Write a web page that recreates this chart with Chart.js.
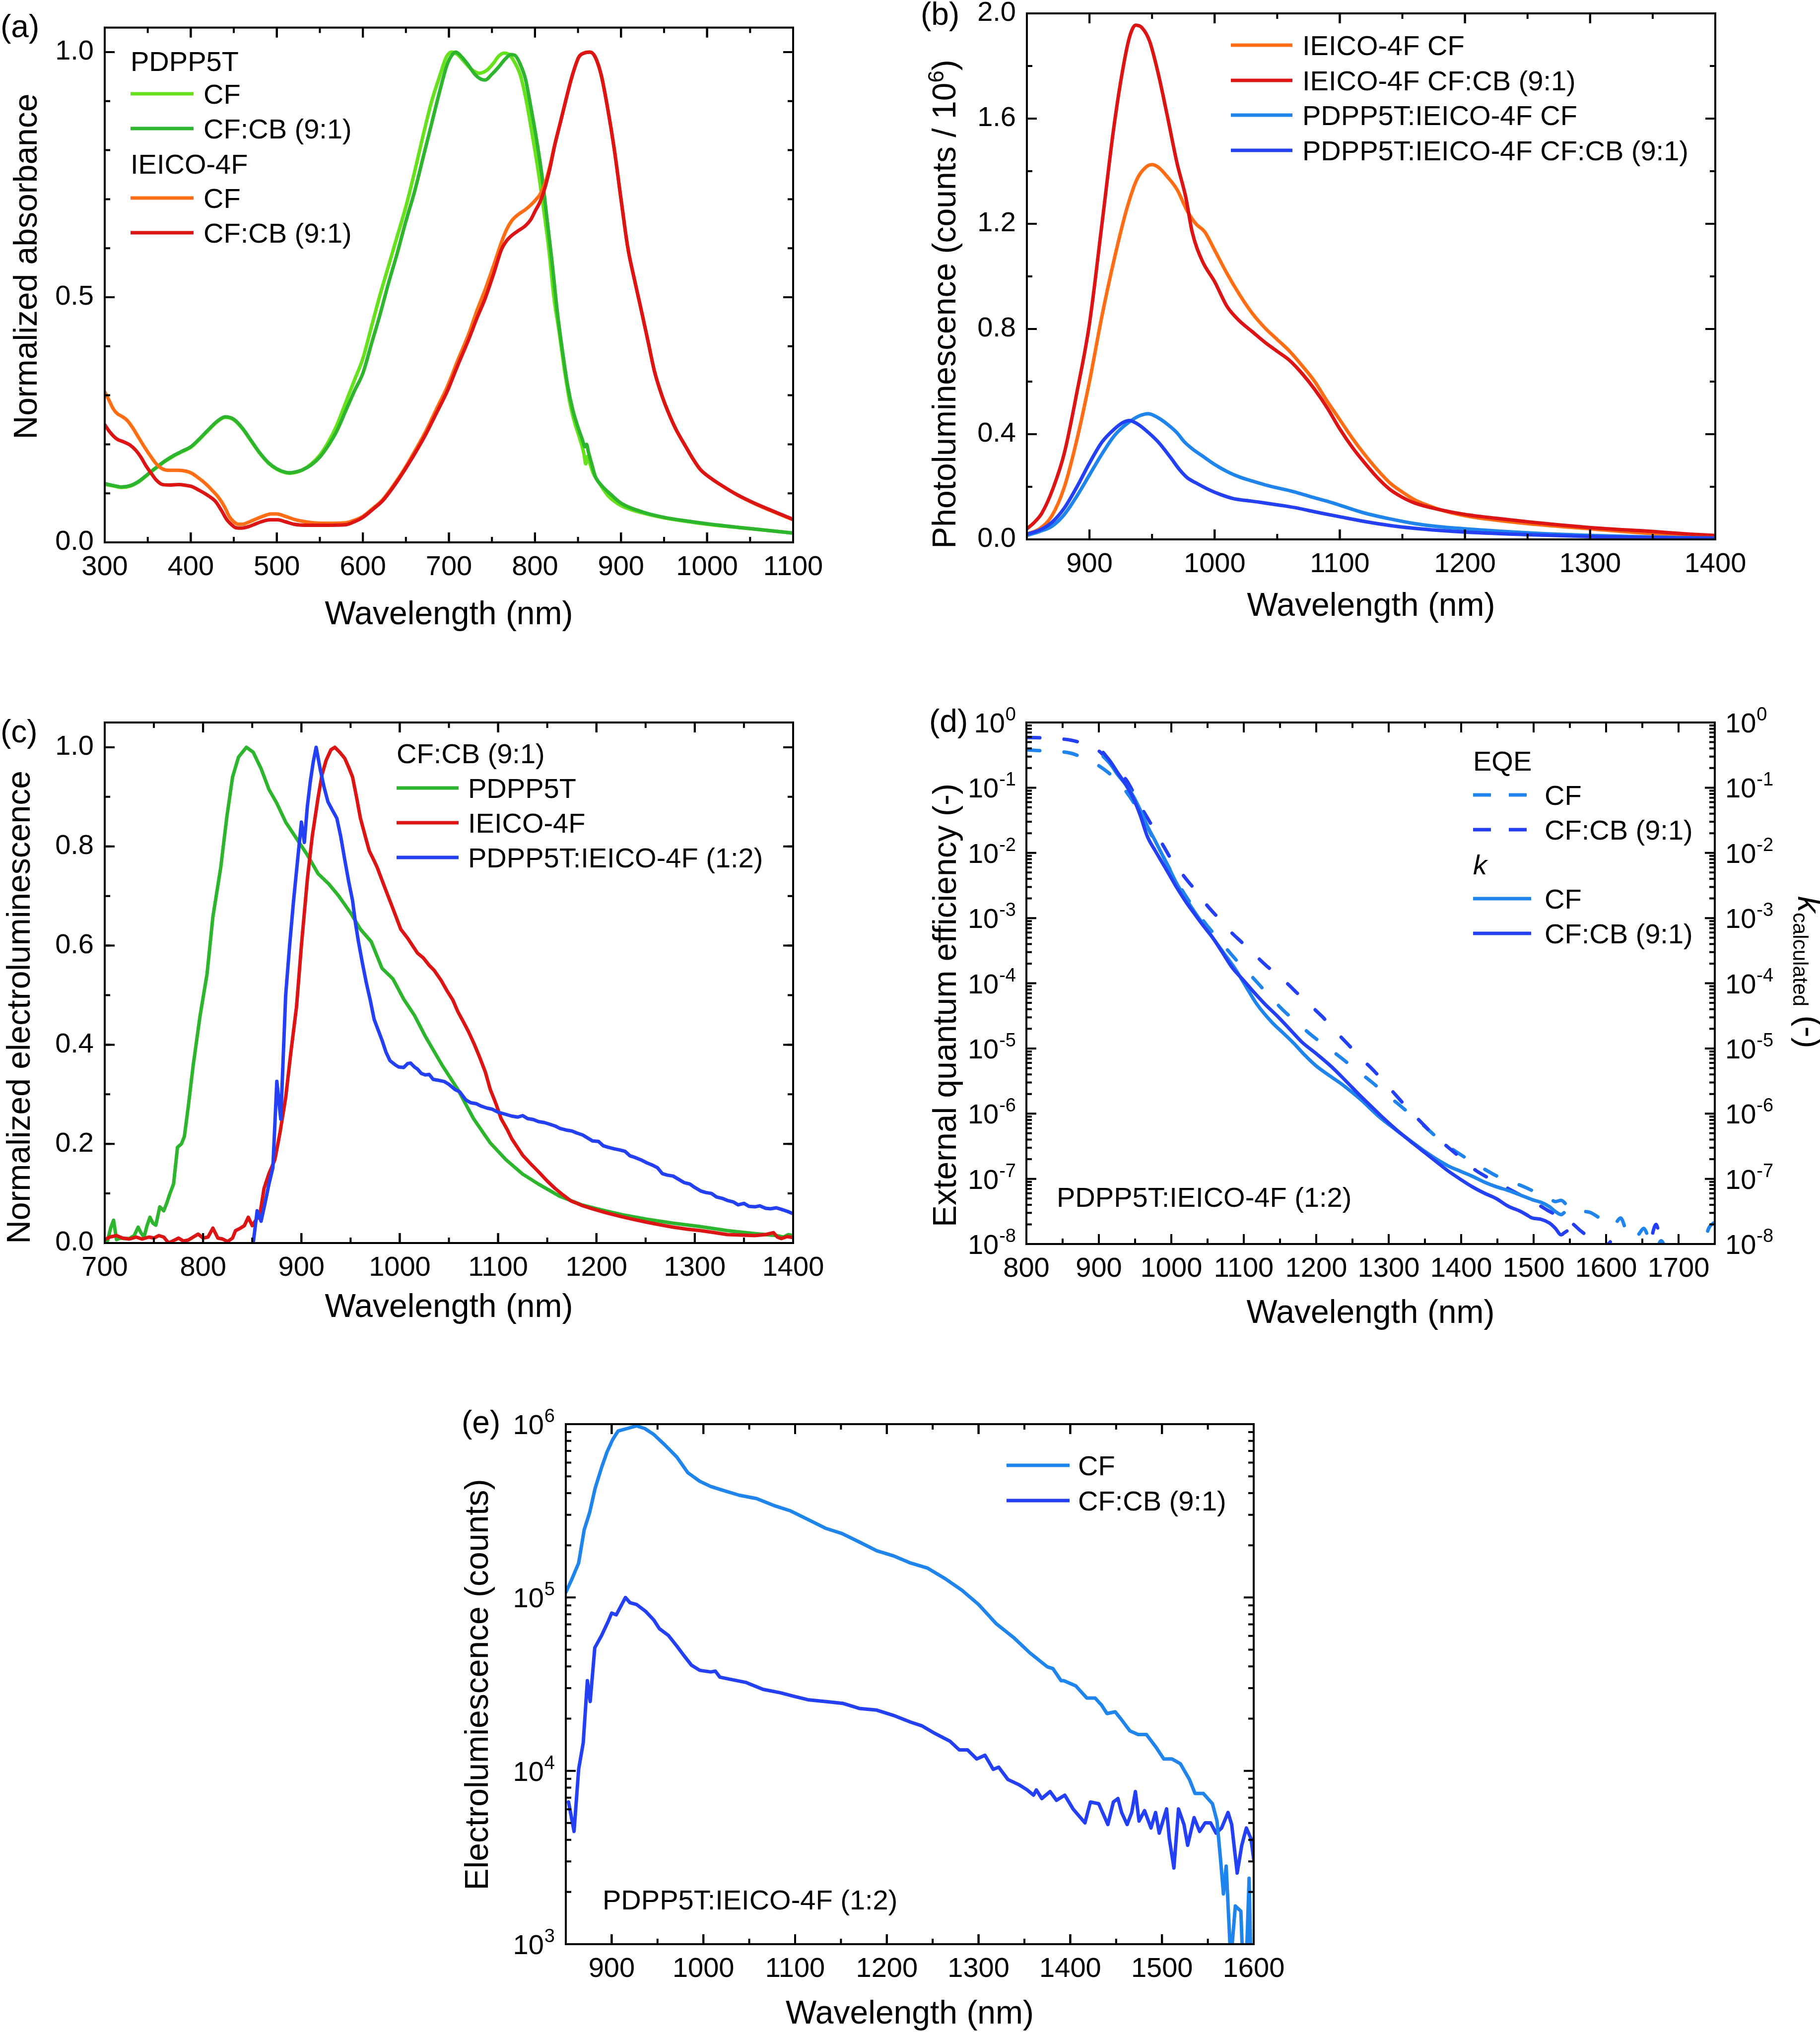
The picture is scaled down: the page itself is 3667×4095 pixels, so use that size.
<!DOCTYPE html>
<html><head><meta charset="utf-8">
<script src="https://cdn.jsdelivr.net/npm/chart.js@4.4.1/dist/chart.umd.min.js"></script>
<style>
html,body{margin:0;padding:0;background:#fff;}
body{width:3667px;height:4095px;position:relative;overflow:hidden;}
canvas{position:absolute;}
</style></head><body>
<canvas id="ca"></canvas><canvas id="cb"></canvas><canvas id="cc"></canvas><canvas id="cd"></canvas><canvas id="ce"></canvas>
<script>
// ================= DATA =================
// (a) normalized absorbance  [wavelength nm, value]
const absPDPP5T_CF = [[300,0.118],[310,0.115],[320,0.112],[330,0.115],[340,0.124],[350,0.138],[360,0.152],[370,0.165],[380,0.176],[390,0.185],[400,0.194],[410,0.21],[420,0.228],[430,0.245],[440,0.255],[450,0.25],[460,0.232],[470,0.207],[480,0.182],[490,0.162],[500,0.149],[510,0.142],[515,0.141],[520,0.142],[530,0.148],[540,0.16],[550,0.178],[560,0.205],[570,0.24],[580,0.285],[590,0.33],[600,0.375],[610,0.44],[620,0.505],[630,0.565],[640,0.625],[650,0.685],[660,0.755],[670,0.83],[680,0.9],[690,0.955],[697,0.99],[703,1.0],[710,0.995],[718,0.98],[726,0.965],[735,0.957],[744,0.963],[752,0.978],[758,0.992],[764,0.998],[770,0.995],[776,0.98],[783,0.953],[790,0.9],[797,0.83],[804,0.755],[810,0.68],[816,0.6],[822,0.5],[828,0.43],[834,0.355],[840,0.29],[846,0.245],[852,0.212],[857,0.18],[859,0.16],[861,0.175],[864,0.16],[868,0.14],[875,0.12],[885,0.095],[900,0.075],[925,0.06],[950,0.05],[975,0.043],[1000,0.037],[1050,0.028],[1100,0.019]];
const absPDPP5T_CFCB = [[300,0.12],[310,0.116],[320,0.113],[330,0.116],[340,0.125],[350,0.139],[360,0.153],[370,0.166],[380,0.177],[390,0.186],[400,0.195],[410,0.211],[420,0.229],[430,0.246],[440,0.256],[450,0.251],[460,0.233],[470,0.208],[480,0.183],[490,0.163],[500,0.15],[510,0.143],[515,0.142],[520,0.143],[530,0.148],[540,0.158],[550,0.174],[560,0.198],[570,0.228],[580,0.268],[590,0.308],[600,0.345],[610,0.405],[620,0.465],[630,0.53],[640,0.59],[650,0.655],[660,0.715],[670,0.785],[680,0.855],[690,0.925],[698,0.975],[704,0.995],[708,1.0],[715,0.99],[722,0.975],[730,0.955],[737,0.945],[742,0.943],[750,0.955],[758,0.97],[765,0.985],[772,0.995],[777,0.993],[783,0.975],[789,0.945],[795,0.89],[802,0.82],[808,0.75],[814,0.66],[820,0.57],[826,0.47],[832,0.39],[838,0.32],[844,0.27],[850,0.235],[855,0.21],[858,0.195],[860,0.2],[862,0.185],[866,0.16],[870,0.135],[878,0.115],[888,0.098],[900,0.08],[925,0.062],[950,0.051],[975,0.044],[1000,0.038],[1050,0.028],[1100,0.019]];
const absIEICO_CF = [[300,0.307],[305,0.29],[310,0.272],[315,0.262],[320,0.257],[326,0.249],[332,0.235],[339,0.215],[346,0.195],[354,0.174],[360,0.16],[367,0.15],[375,0.147],[385,0.147],[395,0.145],[401,0.141],[410,0.13],[417,0.12],[425,0.106],[433,0.09],[440,0.07],[445,0.052],[450,0.042],[455,0.037],[460,0.037],[467,0.041],[475,0.047],[485,0.054],[493,0.058],[500,0.058],[510,0.053],[520,0.047],[530,0.043],[542,0.04],[560,0.039],[580,0.04],[590,0.045],[600,0.053],[612,0.07],[623,0.087],[635,0.115],[648,0.149],[660,0.185],[673,0.226],[685,0.27],[698,0.317],[710,0.37],[723,0.425],[732,0.47],[742,0.515],[752,0.565],[761,0.612],[767,0.638],[773,0.656],[780,0.668],[789,0.679],[795,0.688],[800,0.697],[806,0.71],[811,0.729],[817,0.765],[823,0.812],[830,0.86],[836,0.903],[843,0.95],[851,0.99],[857,0.998],[864,1.0],[870,0.99],[877,0.953],[884,0.89],[892,0.804],[900,0.7],[908,0.6],[916,0.533],[924,0.47],[932,0.405],[939,0.348],[947,0.302],[955,0.265],[964,0.23],[974,0.199],[983,0.172],[992,0.149],[1005,0.13],[1017,0.116],[1035,0.097],[1055,0.079],[1075,0.064],[1100,0.046]];
const absIEICO_CFCB = [[300,0.24],[306,0.225],[314,0.211],[322,0.205],[329,0.199],[336,0.188],[342,0.174],[348,0.156],[354,0.141],[360,0.127],[367,0.118],[375,0.117],[386,0.118],[395,0.116],[401,0.114],[410,0.106],[417,0.099],[423,0.092],[429,0.083],[436,0.064],[442,0.046],[448,0.035],[452,0.03],[458,0.029],[465,0.031],[473,0.036],[482,0.042],[492,0.046],[501,0.046],[510,0.042],[520,0.037],[535,0.035],[555,0.035],[580,0.036],[590,0.042],[600,0.051],[612,0.068],[623,0.085],[635,0.112],[648,0.146],[660,0.18],[673,0.22],[685,0.262],[698,0.308],[710,0.36],[723,0.414],[732,0.455],[742,0.497],[752,0.548],[761,0.597],[767,0.615],[773,0.626],[780,0.635],[789,0.646],[795,0.658],[800,0.675],[806,0.695],[811,0.72],[817,0.76],[823,0.81],[830,0.86],[836,0.903],[843,0.95],[851,0.99],[857,0.998],[864,1.0],[870,0.99],[877,0.953],[884,0.89],[892,0.804],[900,0.7],[908,0.6],[916,0.533],[924,0.47],[932,0.405],[939,0.348],[947,0.302],[955,0.265],[964,0.23],[974,0.199],[983,0.172],[992,0.149],[1005,0.13],[1017,0.116],[1035,0.097],[1055,0.08],[1075,0.065],[1100,0.047]];
const aXTicks = [300,400,500,600,700,800,900,1000,1100];
const aYTicks = [0.0,0.5,1.0];

// (b) photoluminescence, counts / 1e6
const plIEICO_CF = [[850,0.02],[860,0.04],[870,0.09],[880,0.2],[890,0.38],[900,0.6],[910,0.85],[920,1.07],[930,1.26],[938,1.37],[945,1.415],[950,1.425],[955,1.415],[962,1.38],[970,1.33],[978,1.25],[985,1.2],[992,1.17],[1000,1.1],[1010,1.01],[1020,0.93],[1030,0.86],[1040,0.805],[1050,0.76],[1060,0.715],[1070,0.66],[1080,0.6],[1090,0.525],[1100,0.455],[1110,0.385],[1120,0.322],[1130,0.265],[1140,0.215],[1150,0.18],[1160,0.15],[1170,0.13],[1180,0.113],[1200,0.09],[1225,0.073],[1250,0.06],[1300,0.04],[1350,0.022],[1400,0.01]];
const plIEICO_CFCB = [[850,0.04],[856,0.065],[862,0.1],[871,0.195],[880,0.33],[890,0.56],[900,0.82],[910,1.2],[919,1.55],[926,1.77],[932,1.91],[937,1.955],[942,1.945],[948,1.895],[955,1.77],[962,1.615],[970,1.43],[977,1.3],[982,1.17],[990,1.06],[1000,0.98],[1010,0.885],[1020,0.83],[1030,0.79],[1040,0.75],[1050,0.715],[1060,0.68],[1070,0.63],[1080,0.57],[1090,0.5],[1100,0.42],[1110,0.35],[1120,0.29],[1130,0.235],[1140,0.19],[1150,0.16],[1160,0.138],[1180,0.113],[1200,0.095],[1225,0.08],[1250,0.067],[1300,0.045],[1350,0.03],[1380,0.02],[1400,0.015]];
const plBlend_CF = [[850,0.015],[860,0.03],[870,0.05],[880,0.095],[890,0.165],[900,0.245],[910,0.325],[920,0.395],[930,0.44],[940,0.47],[947,0.478],[955,0.462],[963,0.435],[970,0.405],[976,0.37],[982,0.345],[990,0.318],[1000,0.285],[1010,0.258],[1020,0.237],[1030,0.222],[1040,0.208],[1050,0.196],[1060,0.185],[1070,0.172],[1080,0.158],[1090,0.145],[1100,0.13],[1120,0.1],[1140,0.078],[1160,0.06],[1180,0.048],[1200,0.04],[1250,0.025],[1300,0.015],[1350,0.009],[1400,0.005]];
const plBlend_CFCB = [[850,0.02],[860,0.035],[870,0.065],[880,0.12],[890,0.2],[900,0.29],[910,0.37],[920,0.42],[927,0.445],[932,0.452],[938,0.44],[945,0.415],[955,0.37],[965,0.31],[972,0.265],[978,0.235],[985,0.215],[995,0.19],[1005,0.17],[1015,0.155],[1025,0.148],[1035,0.142],[1045,0.135],[1055,0.128],[1065,0.12],[1075,0.11],[1085,0.1],[1100,0.086],[1120,0.068],[1140,0.053],[1160,0.042],[1180,0.034],[1200,0.028],[1250,0.018],[1300,0.011],[1350,0.007],[1400,0.004]];
const bXTicks = [900,1000,1100,1200,1300,1400];
const bYTicks = [0.0,0.4,0.8,1.2,1.6,2.0];

// (c) normalized electroluminescence, CF:CB (9:1)
const elPDPP5T = [[700,0.0],[703,0.005],[706,0.03],[709,0.046],[712,0.007],[716,0.01],[720,0.009],[725,0.009],[730,0.015],[734,0.032],[737,0.02],[740,0.012],[743,0.035],[746,0.052],[749,0.04],[752,0.036],[756,0.073],[760,0.065],[763,0.08],[766,0.098],[770,0.119],[774,0.193],[778,0.2],[781,0.215],[785,0.276],[790,0.359],[797,0.459],[804,0.542],[810,0.658],[818,0.758],[824,0.857],[830,0.94],[836,0.98],[844,1.0],[851,0.99],[859,0.957],[867,0.915],[875,0.887],[884,0.849],[895,0.816],[906,0.783],[917,0.745],[928,0.724],[938,0.7],[950,0.666],[960,0.633],[971,0.608],[982,0.554],[993,0.533],[1004,0.492],[1015,0.459],[1026,0.417],[1043,0.359],[1059,0.31],[1075,0.251],[1092,0.202],[1108,0.168],[1125,0.139],[1141,0.119],[1163,0.094],[1185,0.077],[1207,0.066],[1229,0.056],[1251,0.048],[1278,0.04],[1306,0.033],[1333,0.025],[1361,0.019],[1383,0.015],[1390,0.012],[1395,0.017],[1400,0.015]];
const elIEICO = [[700,0.007],[705,0.012],[712,0.015],[718,0.01],[725,0.008],[732,0.012],[738,0.008],[745,0.012],[750,0.01],[755,0.015],[760,0.012],[765,0.0],[770,0.005],[775,0.01],[780,0.004],[785,0.006],[790,0.012],[795,0.018],[800,0.01],[805,0.012],[810,0.03],[815,0.01],[820,0.008],[825,0.003],[830,0.01],[833,0.025],[838,0.03],[842,0.035],[846,0.052],[850,0.035],[855,0.05],[858,0.06],[862,0.11],[867,0.14],[873,0.168],[878,0.22],[884,0.293],[889,0.38],[895,0.476],[900,0.6],[906,0.733],[911,0.82],[917,0.899],[921,0.945],[925,0.973],[930,0.995],[934,1.0],[939,0.99],[944,0.978],[948,0.96],[952,0.94],[956,0.9],[960,0.857],[965,0.82],[969,0.791],[973,0.775],[977,0.758],[985,0.716],[993,0.675],[1001,0.633],[1008,0.615],[1013,0.6],[1018,0.585],[1024,0.575],[1030,0.56],[1035,0.55],[1042,0.53],[1048,0.509],[1054,0.49],[1059,0.467],[1065,0.445],[1070,0.426],[1076,0.4],[1081,0.376],[1087,0.345],[1092,0.31],[1098,0.28],[1103,0.251],[1109,0.23],[1114,0.21],[1120,0.192],[1125,0.177],[1133,0.16],[1141,0.144],[1150,0.125],[1158,0.11],[1166,0.097],[1174,0.085],[1185,0.076],[1196,0.069],[1210,0.061],[1224,0.054],[1237,0.048],[1251,0.042],[1264,0.037],[1278,0.032],[1292,0.028],[1306,0.025],[1320,0.021],[1333,0.017],[1347,0.016],[1361,0.015],[1372,0.017],[1380,0.021],[1384,0.012],[1388,0.009],[1394,0.013],[1400,0.011]];
const elBlend = [[851,0.0],[855,0.065],[859,0.044],[863,0.08],[867,0.119],[871,0.152],[875,0.326],[879,0.25],[884,0.5],[888,0.6],[892,0.69],[896,0.77],[900,0.849],[903,0.808],[906,0.88],[909,0.93],[912,0.97],[915,1.0],[919,0.957],[923,0.92],[927,0.89],[931,0.875],[936,0.857],[940,0.82],[944,0.774],[948,0.73],[952,0.691],[955,0.645],[958,0.608],[962,0.565],[966,0.525],[970,0.49],[974,0.451],[978,0.43],[982,0.409],[986,0.385],[990,0.368],[995,0.36],[999,0.355],[1004,0.354],[1008,0.362],[1011,0.363],[1015,0.355],[1018,0.351],[1022,0.342],[1026,0.339],[1030,0.34],[1034,0.33],[1040,0.328],[1045,0.326],[1050,0.32],[1056,0.31],[1061,0.305],[1067,0.289],[1072,0.283],[1078,0.281],[1083,0.276],[1089,0.272],[1094,0.27],[1100,0.264],[1107,0.26],[1114,0.256],[1120,0.254],[1125,0.257],[1130,0.251],[1136,0.249],[1141,0.245],[1147,0.243],[1152,0.24],[1158,0.236],[1163,0.231],[1169,0.228],[1175,0.226],[1180,0.222],[1186,0.218],[1191,0.212],[1196,0.206],[1202,0.205],[1207,0.196],[1212,0.193],[1218,0.19],[1223,0.188],[1229,0.185],[1234,0.176],[1240,0.172],[1245,0.168],[1251,0.162],[1256,0.158],[1262,0.152],[1267,0.14],[1272,0.137],[1278,0.135],[1284,0.128],[1289,0.122],[1295,0.119],[1300,0.112],[1306,0.105],[1311,0.102],[1317,0.1],[1322,0.093],[1328,0.09],[1333,0.086],[1339,0.083],[1344,0.077],[1350,0.08],[1355,0.074],[1361,0.073],[1366,0.075],[1372,0.07],[1377,0.069],[1383,0.071],[1388,0.068],[1394,0.064],[1400,0.059]];
const cXTicks = [700,800,900,1000,1100,1200,1300,1400];
const cYTicks = [0.0,0.2,0.4,0.6,0.8,1.0];

// (d) EQE and k_calculated, PDPP5T:IEICO-4F (1:2)
const eqeCF = [[800,0.38],[830,0.363],[861,0.339],[880,0.282],[898,0.224],[912,0.174],[926,0.126],[939,0.0832],[951,0.0525],[963,0.0302],[975,0.0166],[988,0.00912],[1000,0.00513],[1012,0.00302],[1024,0.00186],[1037,0.00117],[1049,7.76e-4],[1061,5.37e-4],[1073,3.72e-4],[1090,2.24e-4],[1114,1.17e-4],[1135,6.46e-5],[1155,3.8e-5],[1175,2.4e-5],[1194,1.58e-5],[1215,1.05e-5],[1235,7.08e-6],[1255,4.68e-6],[1276,3.09e-6],[1295,2.04e-6],[1315,1.35e-6],[1334,8.91e-7],[1350,6.31e-7],[1366,4.37e-7],[1382,3.16e-7],[1398,2.4e-7],[1415,1.82e-7],[1432,1.41e-7],[1448,1.12e-7],[1465,9.33e-8],[1482,7.94e-8],[1498,6.61e-8],[1510,5.62e-8],[1522,5.01e-8],[1530,4.47e-8],[1538,4.68e-8],[1547,3.8e-8],[1555,3.16e-8],[1563,3.31e-8],[1571,3.16e-8],[1579,3.02e-8],[1588,2.63e-8],[1596,2.24e-8],[1604,1.91e-8],[1612,2.0e-8],[1620,2.51e-8],[1628,1.58e-8],[1636,1.2e-8],[1645,1.41e-8],[1652,1.74e-8],[1660,1.12e-8],[1668,7.9e-9],[1676,1.12e-8],[1684,7.9e-9],[1700,6.3e-9],[1720,7.1e-9],[1736,1.12e-8],[1742,1.78e-8],[1748,2.09e-8]];
const eqeCFCB = [[800,0.589],[830,0.575],[861,0.537],[880,0.468],[898,0.38],[908,0.302],[918,0.224],[929,0.17],[939,0.126],[949,0.0794],[959,0.049],[970,0.0302],[980,0.0191],[990,0.0123],[1000,0.00794],[1012,0.00525],[1024,0.00355],[1037,0.0024],[1049,0.00158],[1065,0.001],[1081,6.31e-4],[1098,4.17e-4],[1114,2.82e-4],[1130,1.91e-4],[1155,1.12e-4],[1180,6.03e-5],[1209,3.02e-5],[1226,1.86e-5],[1244,1.15e-5],[1262,7.08e-6],[1281,4.37e-6],[1298,2.69e-6],[1315,1.66e-6],[1330,1.07e-6],[1342,7.94e-7],[1358,5.25e-7],[1375,3.55e-7],[1391,2.51e-7],[1407,1.78e-7],[1420,1.35e-7],[1432,1.12e-7],[1448,8.91e-8],[1465,7.08e-8],[1482,5.62e-8],[1498,4.47e-8],[1510,3.8e-8],[1522,3.16e-8],[1535,2.69e-8],[1546,2.4e-8],[1555,2.0e-8],[1563,1.66e-8],[1571,1.41e-8],[1579,1.17e-8],[1587,1.0e-8],[1595,7.9e-9],[1603,1.0e-8],[1612,1.2e-8],[1620,1.0e-8],[1630,7.6e-9],[1645,7.1e-9],[1660,1.0e-8],[1669,2.0e-8],[1676,1.0e-8],[1686,7.1e-9],[1700,6.3e-9]];
const kCF = [[906,0.302],[916,0.229],[926,0.158],[937,0.112],[947,0.0759],[957,0.0457],[967,0.0257],[978,0.0151],[988,0.00912],[998,0.0055],[1008,0.00331],[1020,0.002],[1033,0.0012],[1045,7.76e-4],[1057,5.01e-4],[1072,2.95e-4],[1087,1.74e-4],[1103,8.91e-5],[1118,4.79e-5],[1139,2.51e-5],[1154,1.74e-5],[1169,1.2e-5],[1184,7.94e-6],[1199,5.5e-6],[1216,3.98e-6],[1233,2.95e-6],[1248,2.19e-6],[1262,1.62e-6],[1286,9.12e-7],[1310,5.62e-7],[1334,3.55e-7],[1350,2.63e-7],[1366,2.0e-7],[1382,1.58e-7],[1398,1.32e-7],[1415,1.1e-7],[1432,8.91e-8],[1448,7.59e-8],[1465,6.61e-8],[1482,5.62e-8],[1498,4.79e-8],[1510,4.37e-8],[1522,3.72e-8],[1530,3.16e-8],[1538,2.82e-8],[1542,3.02e-8]];
const kCFCB = [[906,0.347],[916,0.251],[926,0.17],[937,0.112],[947,0.0708],[957,0.038],[967,0.0178],[978,0.0107],[988,0.00692],[998,0.00447],[1008,0.00288],[1020,0.00178],[1033,0.00112],[1045,7.41e-4],[1057,5.01e-4],[1070,3.02e-4],[1084,1.74e-4],[1100,1.1e-4],[1115,7.08e-5],[1130,4.68e-5],[1146,3.16e-5],[1163,2.0e-5],[1180,1.26e-5],[1200,8.32e-6],[1221,5.25e-6],[1241,3.16e-6],[1262,1.82e-6],[1276,1.29e-6],[1290,9.12e-7],[1310,5.75e-7],[1334,3.47e-7],[1350,2.51e-7],[1366,1.82e-7],[1382,1.32e-7],[1398,1.0e-7],[1415,7.59e-8],[1432,6.03e-8],[1448,5.01e-8],[1465,3.8e-8],[1482,3.16e-8],[1490,2.82e-8],[1498,2.51e-8],[1510,2.4e-8],[1522,2.09e-8],[1530,1.74e-8],[1538,1.38e-8],[1542,1.48e-8],[1546,1.58e-8]];
const dXTicks = [800,900,1000,1100,1200,1300,1400,1500,1600,1700];
const dYTickExps = [0,-1,-2,-3,-4,-5,-6,-7,-8];

// (e) electroluminescence counts, PDPP5T:IEICO-4F (1:2)
const elCountsCF = [[850,1.07e5],[857,1.29e5],[864,1.58e5],[870,2.45e5],[876,3.09e5],[882,4.27e5],[889,5.62e5],[895,6.92e5],[901,8.13e5],[907,9.12e5],[917,9.44e5],[927,9.77e5],[936,9.44e5],[946,8.71e5],[958,7.59e5],[971,6.46e5],[983,5.25e5],[996,4.68e5],[1008,4.37e5],[1020,4.17e5],[1039,3.89e5],[1058,3.72e5],[1077,3.39e5],[1095,3.16e5],[1114,2.82e5],[1133,2.51e5],[1151,2.34e5],[1170,2.09e5],[1189,1.86e5],[1207,1.74e5],[1226,1.58e5],[1244,1.48e5],[1263,1.29e5],[1282,1.1e5],[1300,9.12e4],[1319,7.08e4],[1338,5.89e4],[1356,4.79e4],[1375,3.98e4],[1381,3.89e4],[1390,3.31e4],[1393,3.31e4],[1406,3.09e4],[1418,2.63e4],[1427,2.63e4],[1434,2.4e4],[1440,2.14e4],[1449,2.19e4],[1455,2.0e4],[1465,1.7e4],[1474,1.62e4],[1483,1.62e4],[1493,1.38e4],[1502,1.17e4],[1511,1.17e4],[1520,1.1e4],[1530,8.91e3],[1536,7.41e3],[1545,7.41e3],[1555,6.46e3],[1560,5.13e3],[1564,3.02e3],[1567,1.95e3],[1570,2.82e3],[1575,800],[1580,1.66e3],[1586,1.55e3],[1588,800],[1592,800],[1595,2.4e3],[1597,800]];
const elCountsCFCB = [[853,6.61e3],[859,4.47e3],[864,1.02e4],[869,1.45e4],[873.5,3.31e4],[876.6,2.51e4],[881.6,5.13e4],[889,6.03e4],[896,7.24e4],[900,8.13e4],[905,7.94e4],[909,8.71e4],[915,1.0e5],[920,9.33e4],[927,9.12e4],[937,8.32e4],[946,7.41e4],[952,6.61e4],[962,6.03e4],[971,5.25e4],[978,4.68e4],[987,4.07e4],[996,3.8e4],[1008,3.72e4],[1013,3.76e4],[1018,3.47e4],[1027,3.39e4],[1046,3.24e4],[1065,2.95e4],[1084,2.82e4],[1099,2.69e4],[1114,2.57e4],[1133,2.51e4],[1152,2.45e4],[1170,2.29e4],[1189,2.24e4],[1207,2.09e4],[1226,1.91e4],[1238,1.82e4],[1251,1.66e4],[1269,1.48e4],[1279,1.32e4],[1288,1.32e4],[1298,1.17e4],[1307,1.23e4],[1316,1.02e4],[1322,1.05e4],[1332,8.91e3],[1344,8.32e3],[1353,7.76e3],[1360,7.24e3],[1363,7.76e3],[1369,6.92e3],[1378,7.59e3],[1385,6.76e3],[1394,7.24e3],[1403,6.03e3],[1416,5.01e3],[1422,6.61e3],[1431,6.46e3],[1441,4.9e3],[1447,6.61e3],[1452,6.92e3],[1456,5.75e3],[1462,4.9e3],[1467,5.75e3],[1471,7.59e3],[1475,5.13e3],[1481,5.89e3],[1488,4.68e3],[1493,5.75e3],[1497,4.37e3],[1505,6.03e3],[1508,4.07e3],[1513,2.75e3],[1518,6.03e3],[1524,4.9e3],[1528,3.72e3],[1535,5.37e3],[1541,4.47e3],[1547,5.01e3],[1553,5.01e3],[1559,4.37e3],[1565,4.68e3],[1572,5.75e3],[1576,4.9e3],[1582,2.57e3],[1587,3.72e3],[1592,4.68e3],[1597,4.07e3],[1600,3.09e3]];
const eXTicks = [900,1000,1100,1200,1300,1400,1500,1600];
const eYTickExps = [3,4,5,6];

// ================= STYLE =================
const FONT = '"Liberation Sans", Arial, Helvetica, sans-serif';
const C = {lg:'#66E21C', dg:'#2EB52E', or:'#FF6E14', rd:'#DC1414', lb:'#1F84EC', db:'#2440F5'};
const LW = 7;
const fnt = (s, it) => (it ? 'italic ' : '') + s + 'px ' + FONT;

function drawRich(ctx, segs, x, y, rot, align) {
  ctx.save(); ctx.translate(x, y); ctx.rotate(rot || 0);
  ctx.textBaseline = 'alphabetic'; ctx.textAlign = 'left'; ctx.fillStyle = '#000';
  let total = 0;
  const ws = segs.map(s => { ctx.font = fnt(s.s, s.it); const w = ctx.measureText(s.t).width; total += w; return w; });
  let cx = align === 'center' ? -total / 2 : (align === 'right' ? -total : 0);
  segs.forEach((s, i) => { ctx.font = fnt(s.s, s.it); ctx.fillText(s.t, cx, s.dy || 0); cx += ws[i]; });
  ctx.restore();
}

const decoPlugin = {
  id: 'deco',
  afterDraw(chart, args, o) {
    const ctx = chart.ctx, ca = chart.chartArea, xs = chart.scales.x, ys = chart.scales.y;
    ctx.save();
    ctx.strokeStyle = '#000'; ctx.lineWidth = 4; ctx.lineCap = 'butt';
    const tX = (v, len) => { const p = xs.getPixelForValue(v); ctx.beginPath(); ctx.moveTo(p, ca.bottom); ctx.lineTo(p, ca.bottom - len); ctx.moveTo(p, ca.top); ctx.lineTo(p, ca.top + len); ctx.stroke(); };
    const tY = (v, len) => { const p = ys.getPixelForValue(v); ctx.beginPath(); ctx.moveTo(ca.left, p); ctx.lineTo(ca.left + len, p); ctx.moveTo(ca.right, p); ctx.lineTo(ca.right - len, p); ctx.stroke(); };
    for (let v = xs.min + o.xMinorStep; v < xs.max; v += o.xMinorStep) {
      const isMajor = o.xTicks.some(t => Math.abs(t - v) < 1e-6);
      tX(v, isMajor ? 20 : 11);
    }
    o.xTicks.forEach(v => tX(v, 20));
    if (o.yLog) {
      for (let e = o.yLog[0]; e < o.yLog[1]; e++) {
        tY(Math.pow(10, e), 20);
        for (let k = 2; k <= 9; k++) tY(k * Math.pow(10, e), 11);
      }
      tY(Math.pow(10, o.yLog[1]), 20);
    } else {
      for (let v = ys.min; v < ys.max + 1e-9; v += o.yMinorStep) tY(v, 11);
      o.yTicks.forEach(v => tY(v, 20));
    }
    ctx.strokeRect(ca.left, ca.top, ca.right - ca.left, ca.bottom - ca.top);
    if (o.logLabels) o.logLabels.forEach(L => {
      L.exps.forEach(e => {
        const p = ys.getPixelForValue(Math.pow(10, e));
        ctx.fillStyle = '#000'; ctx.textBaseline = 'alphabetic'; ctx.textAlign = 'left';
        ctx.font = fnt(56); const w1 = ctx.measureText('10').width;
        ctx.font = fnt(38); const w2 = ctx.measureText(String(e)).width;
        const base = p + 20;
        const x0 = L.side === 'left' ? ca.left - L.gap - w1 - 1 - w2 : ca.right + L.gap;
        ctx.font = fnt(56); ctx.fillText('10', x0, base);
        ctx.font = fnt(38); ctx.fillText(String(e), x0 + w1 + 1, base - 24);
      });
    });
    ctx.translate(-o.ox, -o.oy);
    (o.texts || []).forEach(t => drawRich(ctx, t.segs, t.x, t.y, t.rot, t.align));
    (o.legend || []).forEach(it => {
      if (it.color) {
        ctx.save();
        ctx.strokeStyle = it.color; ctx.lineWidth = LW; ctx.lineCap = 'butt';
        if (it.dash) ctx.setLineDash(it.dash);
        ctx.beginPath(); ctx.moveTo(it.x1, it.y); ctx.lineTo(it.x2, it.y); ctx.stroke();
        ctx.restore();
      }
      drawRich(ctx, [{t: it.text, s: 56, it: it.italic}], it.tx, it.y + 20, 0, 'left');
    });
    ctx.restore();
  }
};

function ds(arr, color, extra) {
  return Object.assign({
    data: arr.map(p => ({x: p[0], y: p[1]})),
    borderColor: color, backgroundColor: color, borderWidth: LW,
    pointRadius: 0, fill: false, tension: 0,
    borderCapStyle: 'round', borderJoinStyle: 'round'
  }, extra || {});
}

function mkChart(id, g, datasets, sc, deco) {
  const cv = document.getElementById(id);
  cv.width = g.w; cv.height = g.h;
  cv.style.left = g.ox + 'px'; cv.style.top = g.oy + 'px';
  cv.style.width = g.w + 'px'; cv.style.height = g.h + 'px';
  const padL = g.L - g.ox, padT = g.T - g.oy, padR = g.ox + g.w - g.R, padB = g.oy + g.h - g.B;
  const tickFont = {family: FONT, size: 56};
  const scales = {
    x: {
      type: 'linear', position: 'bottom', min: sc.xMin, max: sc.xMax,
      afterBuildTicks: s => { s.ticks = sc.xTicks.map(v => ({value: v})); },
      afterFit: s => { s.height = padB; },
      grid: {display: false, drawTicks: false}, border: {display: false},
      ticks: {autoSkip: false, maxRotation: 0, minRotation: 0, padding: 17, color: '#000', font: tickFont, callback: v => String(v)},
      title: {display: true, text: 'Wavelength (nm)', color: '#000', font: {family: FONT, size: 66},
              padding: {top: 0, bottom: g.oy + g.h - sc.xTitleY - 39.6}}
    },
    y: {
      type: sc.yType, position: 'left', min: sc.yMin, max: sc.yMax,
      afterBuildTicks: s => { s.ticks = sc.yTicks.map(v => ({value: v})); },
      afterFit: s => { s.width = padL; },
      grid: {display: false, drawTicks: false}, border: {display: false},
      ticks: {display: sc.yType === 'linear', autoSkip: false, padding: 22, color: '#000', font: tickFont, callback: v => Number(v).toFixed(1)},
      title: {display: false}
    }
  };
  if (sc.y2) {
    scales.y2 = {
      type: sc.yType, position: 'right', min: sc.yMin, max: sc.yMax,
      afterBuildTicks: s => { s.ticks = sc.yTicks.map(v => ({value: v})); },
      afterFit: s => { s.width = padR; },
      grid: {display: false, drawTicks: false}, border: {display: false},
      ticks: {display: false}, title: {display: false}
    };
  }
  deco.ox = g.ox; deco.oy = g.oy;
  return new Chart(cv, {
    type: 'line',
    data: {datasets},
    options: {
      responsive: false, animation: false, devicePixelRatio: 1,
      layout: {padding: {left: 0, top: padT, right: sc.y2 ? 0 : padR, bottom: 0}},
      plugins: {legend: {display: false}, tooltip: {enabled: false}, deco},
      scales
    },
    plugins: [decoPlugin]
  });
}

const PL = 64; // panel-label font size

// ---------- (a) ----------
mkChart('ca', {ox: 0, oy: 0, w: 1700, h: 1320, L: 211, T: 45, R: 1598, B: 1093},
  [ds(absIEICO_CFCB, C.rd, {cubicInterpolationMode: 'monotone'}),
   ds(absIEICO_CF, C.or, {cubicInterpolationMode: 'monotone'}),
   ds(absPDPP5T_CFCB, C.dg, {cubicInterpolationMode: 'monotone'}),
   ds(absPDPP5T_CF, C.lg, {cubicInterpolationMode: 'monotone'})],
  {xMin: 300, xMax: 1100, xTicks: aXTicks, yType: 'linear', yMin: 0, yMax: 1.05, yTicks: aYTicks, xTitleY: 1240},
  {xTicks: aXTicks, xMinorStep: 50, yTicks: aYTicks, yMinorStep: 0.1,
   texts: [
     {segs: [{t: '(a)', s: PL}], x: 1, y: 75, align: 'left'},
     {segs: [{t: 'Normalized absorbance', s: 66}], x: 74, y: 537, rot: -Math.PI / 2, align: 'center'}
   ],
   legend: [
     {text: 'PDPP5T', tx: 263, y: 123},
     {text: 'CF', color: C.lg, x1: 263, x2: 390, tx: 410, y: 189},
     {text: 'CF:CB (9:1)', color: C.dg, x1: 263, x2: 390, tx: 410, y: 259},
     {text: 'IEICO-4F', tx: 263, y: 330},
     {text: 'CF', color: C.or, x1: 263, x2: 390, tx: 410, y: 399},
     {text: 'CF:CB (9:1)', color: C.rd, x1: 263, x2: 390, tx: 410, y: 469}
   ]});

// ---------- (b) ----------
mkChart('cb', {ox: 1800, oy: -40, w: 1867, h: 1340, L: 2069, T: 27, R: 3456, B: 1087},
  [ds(plBlend_CFCB, C.db, {cubicInterpolationMode: 'monotone'}),
   ds(plBlend_CF, C.lb, {cubicInterpolationMode: 'monotone'}),
   ds(plIEICO_CFCB, C.rd, {cubicInterpolationMode: 'monotone'}),
   ds(plIEICO_CF, C.or, {cubicInterpolationMode: 'monotone'})],
  {xMin: 850, xMax: 1400, xTicks: bXTicks, yType: 'linear', yMin: 0, yMax: 2.0, yTicks: bYTicks, xTitleY: 1223},
  {xTicks: bXTicks, xMinorStep: 50, yTicks: bYTicks, yMinorStep: 0.2,
   texts: [
     {segs: [{t: '(b)', s: PL}], x: 1855, y: 50, align: 'left'},
     {segs: [{t: 'Photoluminescence (counts / 10', s: 66}, {t: '6', s: 44, dy: -24}, {t: ')', s: 66}], x: 1925, y: 613, rot: -Math.PI / 2, align: 'center'}
   ],
   legend: [
     {text: 'IEICO-4F CF', color: C.or, x1: 2480, x2: 2604, tx: 2624, y: 91},
     {text: 'IEICO-4F CF:CB (9:1)', color: C.rd, x1: 2480, x2: 2604, tx: 2624, y: 162},
     {text: 'PDPP5T:IEICO-4F CF', color: C.lb, x1: 2480, x2: 2604, tx: 2624, y: 232},
     {text: 'PDPP5T:IEICO-4F CF:CB (9:1)', color: C.db, x1: 2480, x2: 2604, tx: 2624, y: 303}
   ]});

// ---------- (c) ----------
mkChart('cc', {ox: 0, oy: 1380, w: 1700, h: 1340, L: 211, T: 1456, R: 1598, B: 2505},
  [ds(elBlend, C.db), ds(elIEICO, C.rd), ds(elPDPP5T, C.dg)],
  {xMin: 700, xMax: 1400, xTicks: cXTicks, yType: 'linear', yMin: 0, yMax: 1.05, yTicks: cYTicks, xTitleY: 2636},
  {xTicks: cXTicks, xMinorStep: 50, yTicks: cYTicks, yMinorStep: 0.1,
   texts: [
     {segs: [{t: '(c)', s: PL}], x: 1, y: 1496, align: 'left'},
     {segs: [{t: 'Normalized electroluminescence', s: 66}], x: 60, y: 2030, rot: -Math.PI / 2, align: 'center'}
   ],
   legend: [
     {text: 'CF:CB (9:1)', tx: 799, y: 1518},
     {text: 'PDPP5T', color: C.dg, x1: 799, x2: 924, tx: 943, y: 1588},
     {text: 'IEICO-4F', color: C.rd, x1: 799, x2: 924, tx: 943, y: 1658},
     {text: 'PDPP5T:IEICO-4F (1:2)', color: C.db, x1: 799, x2: 924, tx: 943, y: 1728}
   ]});

// ---------- (d) ----------
const dashPlot = [27, 49];
mkChart('cd', {ox: 1800, oy: 1380, w: 1867, h: 1340, L: 2068, T: 1456, R: 3455, B: 2507},
  [ds(kCFCB, C.db, {cubicInterpolationMode: 'monotone'}),
   ds(kCF, C.lb, {cubicInterpolationMode: 'monotone'}),
   ds(eqeCFCB, C.db, {borderDash: dashPlot, cubicInterpolationMode: 'monotone'}),
   ds(eqeCF, C.lb, {borderDash: dashPlot, cubicInterpolationMode: 'monotone'})],
  {xMin: 800, xMax: 1750, xTicks: dXTicks, yType: 'logarithmic', yMin: 1e-8, yMax: 1, yTicks: dYTickExps.map(e => Math.pow(10, e)), y2: true, xTitleY: 2648},
  {xTicks: dXTicks, xMinorStep: 50, yLog: [-8, 0],
   logLabels: [{side: 'left', gap: 21, exps: dYTickExps}, {side: 'right', gap: 21, exps: dYTickExps}],
   texts: [
     {segs: [{t: '(d)', s: PL}], x: 1872, y: 1475, align: 'left'},
     {segs: [{t: 'External quantum efficiency (-)', s: 66}], x: 1926, y: 2026, rot: -Math.PI / 2, align: 'center'},
     {segs: [{t: 'k', s: 66, it: true}, {t: 'calculated', s: 42, dy: 10}, {t: ' (-)', s: 66}], x: 3623, y: 1806, rot: Math.PI / 2, align: 'left'},
     {segs: [{t: 'PDPP5T:IEICO-4F (1:2)', s: 56}], x: 2129, y: 2432, align: 'left'}
   ],
   legend: [
     {text: 'EQE', tx: 2968, y: 1533},
     {text: 'CF', color: C.lb, dash: [36, 36], x1: 2968, x2: 3085, tx: 3112, y: 1602},
     {text: 'CF:CB (9:1)', color: C.db, dash: [36, 36], x1: 2968, x2: 3085, tx: 3112, y: 1672},
     {text: 'k', italic: true, tx: 2968, y: 1742},
     {text: 'CF', color: C.lb, x1: 2968, x2: 3085, tx: 3112, y: 1811},
     {text: 'CF:CB (9:1)', color: C.db, x1: 2968, x2: 3085, tx: 3112, y: 1881}
   ]});

// ---------- (e) ----------
mkChart('ce', {ox: 880, oy: 2780, w: 1820, h: 1340, L: 1140, T: 2870, R: 2526, B: 3918},
  [ds(elCountsCF, C.lb), ds(elCountsCFCB, C.db)],
  {xMin: 850, xMax: 1600, xTicks: eXTicks, yType: 'logarithmic', yMin: 1e3, yMax: 1e6, yTicks: eYTickExps.map(e => Math.pow(10, e)), xTitleY: 4060},
  {xTicks: eXTicks, xMinorStep: 50, yLog: [3, 6],
   logLabels: [{side: 'left', gap: 22, exps: eYTickExps}],
   texts: [
     {segs: [{t: '(e)', s: PL}], x: 930, y: 2888, align: 'left'},
     {segs: [{t: 'Electrolumiescence (counts)', s: 66}], x: 983, y: 3395, rot: -Math.PI / 2, align: 'center'},
     {segs: [{t: 'PDPP5T:IEICO-4F (1:2)', s: 56}], x: 1214, y: 3848, align: 'left'}
   ],
   legend: [
     {text: 'CF', color: C.lb, x1: 2028, x2: 2155, tx: 2172, y: 2953},
     {text: 'CF:CB (9:1)', color: C.db, x1: 2028, x2: 2155, tx: 2172, y: 3024}
   ]});
</script>
</body></html>
